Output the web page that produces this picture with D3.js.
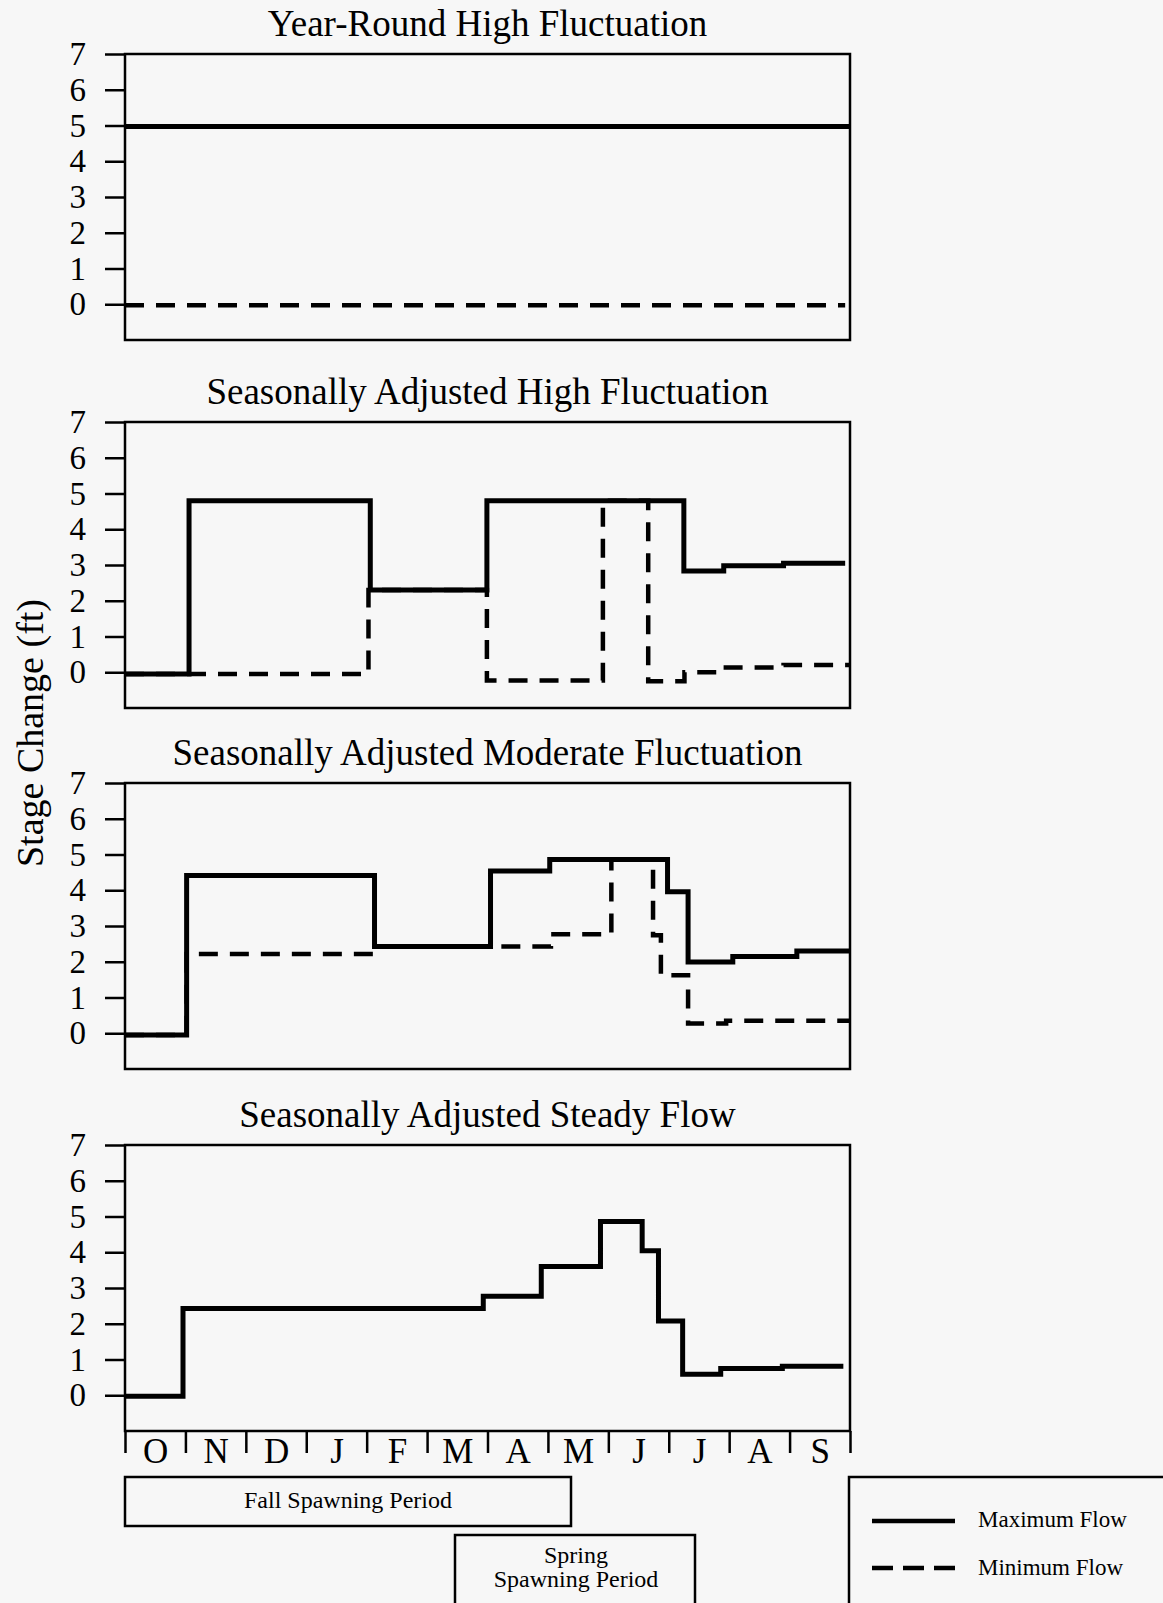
<!DOCTYPE html>
<html>
<head>
<meta charset="utf-8">
<script src="https://cdn.jsdelivr.net/npm/d3@7"></script>
<style>
  body { margin: 0; background: #f7f7f7; }
  svg { display: block; font-family: 'Liberation Serif', 'Times New Roman', serif; }
</style>
</head>
<body>
<svg id="chart"></svg>
<script>
  // Water-year months, Oct -> Sep
  var months = ['O', 'N', 'D', 'J', 'F', 'M', 'A', 'M', 'J', 'J', 'A', 'S']
  var yTicks = [0, 1, 2, 3, 4, 5, 6, 7]
  var titles = [
    'Year-Round High Fluctuation',
    'Seasonally Adjusted High Fluctuation',
    'Seasonally Adjusted Moderate Fluctuation',
    'Seasonally Adjusted Steady Flow'
  ]

  // Step series as [month, stage change ft]; last pair closes the final step
  var yearRoundMax = [[0, 4.97], [12, 4.97]]
  var yearRoundMin = [[0, -0.03], [11.92, -0.03]]
  var highMax = [[0, -0.05], [1.06, 4.8], [4.06, 2.3], [5.99, 4.8], [9.25, 2.83], [9.91, 2.98], [10.9, 3.05], [11.92, 3.05]]
  var highMin = [[0, -0.05], [4.03, 2.3], [5.99, -0.23], [7.91, 4.8], [8.66, -0.25], [9.26, 0], [9.86, 0.13], [10.9, 0.2], [12, 0.2]]
  var moderateMax = [[0, -0.05], [1.02, 4.41], [4.13, 2.43], [6.05, 4.54], [7.03, 4.86], [8.98, 3.96], [9.32, 1.99], [10.06, 2.15], [11.12, 2.3], [12, 2.3]]
  var moderateMin = [[0, -0.05], [1.02, 2.22], [4.13, 2.43], [7.05, 2.77], [8.05, 4.85], [8.74, 2.74], [8.87, 1.62], [9.32, 0.27], [9.95, 0.35], [12, 0.35]]
  var steadyMax = [[0, -0.03], [0.96, 2.43], [5.93, 2.77], [6.89, 3.6], [7.87, 4.86], [8.56, 4.04], [8.83, 2.08], [9.23, 0.59], [9.86, 0.75], [10.88, 0.81], [11.89, 0.81]]

  var legendLabels = ['Maximum Flow', 'Minimum Flow']

  var panels = [
    { title: titles[0], max: yearRoundMax, min: yearRoundMin },
    { title: titles[1], max: highMax, min: highMin },
    { title: titles[2], max: moderateMax, min: moderateMin },
    { title: titles[3], max: steadyMax, min: null }
  ]

  // Layout
  var WIDTH = 1163
  var HEIGHT = 1603
  var LEFT = 125
  var RIGHT = 850
  var PANEL_H = 286
  var tops = [54, 422, 783, 1145]
  var DASH = '19,12'

  var svg = d3.select('#chart').attr('width', WIDTH).attr('height', HEIGHT)
  var x = d3.scaleLinear().domain([0, 12]).range([LEFT, RIGHT])

  panels.forEach(function (p, i) {
    var top = tops[i]
    var y = d3.scaleLinear().domain([-1, 7]).range([top + PANEL_H, top])
    var g = svg.append('g')

    var step = d3.line()
      .x(function (d) { return x(d[0]) })
      .y(function (d) { return y(d[1]) })
      .curve(d3.curveStepAfter)

    g.append('rect')
      .attr('x', LEFT).attr('y', top)
      .attr('width', RIGHT - LEFT).attr('height', PANEL_H)
      .attr('fill', 'none').attr('stroke', '#000').attr('stroke-width', 2.5)

    var ax = g.append('g')
      .attr('transform', 'translate(' + LEFT + ',0)')
      .call(d3.axisLeft(y).tickValues(yTicks).tickSize(20).tickPadding(19).tickFormat(d3.format('d')))
    ax.select('.domain').remove()
    ax.selectAll('line').attr('stroke', '#000').attr('stroke-width', 2.5)
    ax.selectAll('text').attr('fill', '#000')
      .style('font-size', '33px').style('font-family', 'Liberation Serif, serif')

    g.append('text')
      .attr('x', (LEFT + RIGHT) / 2).attr('y', top - 18)
      .attr('text-anchor', 'middle')
      .style('font-size', '37px')
      .text(p.title)

    if (p.min) {
      g.append('path')
        .attr('d', step(p.min))
        .attr('fill', 'none').attr('stroke', '#000')
        .attr('stroke-width', 4.5).attr('stroke-dasharray', DASH)
    }
    g.append('path')
      .attr('d', step(p.max))
      .attr('fill', 'none').attr('stroke', '#000')
      .attr('stroke-width', 5)
  })

  // Month axis under the last panel
  var axisY = tops[3] + PANEL_H
  var mt = svg.append('g')
    .attr('transform', 'translate(0,' + axisY + ')')
    .call(d3.axisBottom(x).tickValues(d3.range(13)).tickSize(22).tickFormat(''))
  mt.select('.domain').remove()
  mt.selectAll('line').attr('stroke', '#000').attr('stroke-width', 2.5)

  var ml = svg.append('g')
    .attr('transform', 'translate(0,' + axisY + ')')
    .call(d3.axisBottom(x).tickValues(d3.range(12).map(function (m) { return m + 0.5 }))
      .tickSize(0).tickPadding(7).tickFormat(function (d, i) { return months[i] }))
  ml.select('.domain').remove()
  ml.selectAll('text').attr('fill', '#000')
    .style('font-size', '35px').style('font-family', 'Liberation Serif, serif')

  // Y label
  svg.append('text')
    .attr('transform', 'translate(43,733) rotate(-90)')
    .attr('text-anchor', 'middle')
    .style('font-size', '38px')
    .text('Stage Change (ft)')

  // Spawning period boxes
  svg.append('rect')
    .attr('x', 125).attr('y', 1477).attr('width', 446).attr('height', 49)
    .attr('fill', 'none').attr('stroke', '#000').attr('stroke-width', 2.5)
  svg.append('text')
    .attr('x', 348).attr('y', 1508).attr('text-anchor', 'middle')
    .style('font-size', '24px')
    .text('Fall Spawning Period')

  svg.append('rect')
    .attr('x', 455).attr('y', 1535).attr('width', 240).attr('height', 90)
    .attr('fill', 'none').attr('stroke', '#000').attr('stroke-width', 2.5)
  svg.append('text')
    .attr('x', 576).attr('y', 1563).attr('text-anchor', 'middle')
    .style('font-size', '24px')
    .text('Spring')
  svg.append('text')
    .attr('x', 576).attr('y', 1587).attr('text-anchor', 'middle')
    .style('font-size', '24px')
    .text('Spawning Period')

  // Legend
  var lg = svg.append('g')
  lg.append('rect')
    .attr('x', 849).attr('y', 1477).attr('width', 400).attr('height', 200)
    .attr('fill', 'none').attr('stroke', '#000').attr('stroke-width', 2.5)
  lg.selectAll('line.key')
    .data(legendLabels)
    .enter().append('line')
    .attr('class', 'key')
    .attr('x1', 872).attr('x2', 955)
    .attr('y1', function (d, i) { return 1521 + i * 47 })
    .attr('y2', function (d, i) { return 1521 + i * 47 })
    .attr('stroke', '#000').attr('stroke-width', 4.5)
    .attr('stroke-dasharray', function (d, i) { return i ? '21,10' : null })
  lg.selectAll('text')
    .data(legendLabels)
    .enter().append('text')
    .attr('x', 978)
    .attr('y', function (d, i) { return 1527 + i * 48 })
    .style('font-size', '23px')
    .text(function (d) { return d })
</script>
</body>
</html>
